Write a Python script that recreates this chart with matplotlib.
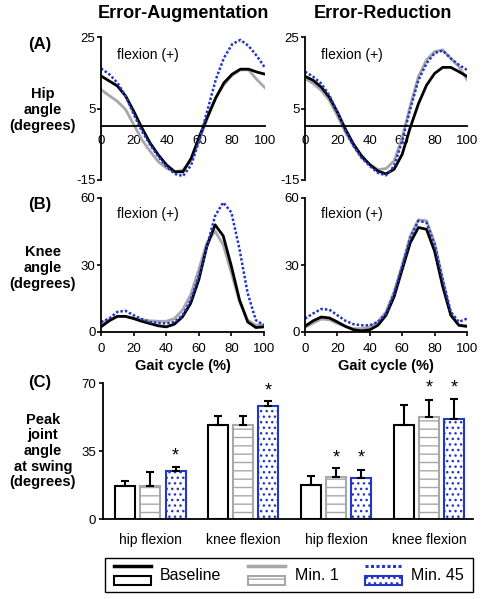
import numpy as np
import matplotlib
matplotlib.use('Agg')
import matplotlib.pyplot as plt
from matplotlib.lines import Line2D
from matplotlib.patches import Rectangle
from matplotlib.legend_handler import HandlerBase

plt.rcParams['font.family'] = ['Liberation Sans', 'DejaVu Sans']
plt.rcParams['hatch.linewidth'] = 1.0
plt.rcParams['axes.unicode_minus'] = False

# gait cycle samples (%)
pct = np.arange(0, 101, 5)

# hip angle, error-augmentation
hip_ea_base = [14.1, 12.7, 11.3, 8.5, 4.2, -0.5, -4.7, -8.0, -10.8, -12.7, -12.7, -8.9, -2.8, 2.8, 8.0, 12.2, 14.6, 16.0, 16.0, 15.2, 14.6]
hip_ea_min1 = [10.3, 8.6, 7.0, 4.7, 0.5, -3.8, -7.0, -9.9, -11.7, -12.7, -12.2, -9.4, -3.8, 2.3, 8.0, 11.7, 14.3, 15.8, 15.8, 13.1, 10.8]
hip_ea_min45 = [16.2, 14.6, 12.2, 8.5, 3.3, -1.4, -5.2, -8.5, -11.3, -13.3, -13.9, -10.8, -3.8, 4.7, 13.1, 19.2, 23.0, 24.2, 22.5, 19.7, 16.4]
# hip angle, error-reduction
hip_er_base = [14.0, 12.9, 11.0, 8.2, 4.0, -0.8, -5.0, -8.3, -10.7, -12.5, -13.3, -12.0, -7.8, -0.3, 6.3, 11.5, 14.8, 16.5, 16.5, 15.3, 14.0]
hip_er_min1 = [13.4, 12.0, 10.1, 7.3, 3.0, -1.7, -5.5, -8.8, -10.7, -12.1, -11.8, -9.7, -3.1, 5.8, 13.9, 18.6, 20.9, 21.4, 19.0, 16.7, 13.1]
hip_er_min45 = [15.3, 13.9, 12.0, 8.7, 4.0, -1.2, -5.5, -8.8, -11.1, -13.0, -13.7, -11.1, -4.1, 4.9, 12.9, 17.6, 20.5, 21.2, 19.0, 17.2, 15.8]
# knee angle, error-augmentation
knee_ea_base = [2.3, 5.0, 7.0, 7.0, 6.0, 4.8, 3.8, 2.8, 2.3, 3.5, 6.8, 12.8, 23.4, 38.5, 48.0, 43.0, 29.4, 14.3, 4.5, 2.0, 2.3]
knee_ea_min1 = [3.8, 5.5, 7.0, 7.0, 6.3, 5.5, 5.0, 4.8, 4.8, 6.0, 9.8, 16.6, 28.0, 40.0, 45.2, 39.0, 26.4, 13.6, 5.3, 3.0, 3.3]
knee_ea_min45 = [4.5, 6.0, 9.0, 9.5, 7.5, 5.8, 4.5, 4.0, 3.8, 4.5, 7.5, 14.3, 25.0, 38.5, 52.0, 58.0, 53.5, 37.0, 17.3, 5.3, 3.0]
# knee angle, error-reduction
knee_er_base = [2.6, 5.0, 6.7, 6.3, 4.5, 2.5, 1.0, 0.5, 1.0, 3.0, 7.5, 15.8, 28.0, 40.0, 46.8, 46.0, 36.2, 20.4, 7.5, 3.0, 2.6]
knee_er_min1 = [2.0, 4.0, 5.8, 5.5, 3.8, 2.5, 1.5, 1.5, 2.3, 4.5, 9.0, 18.0, 30.0, 43.0, 50.2, 49.8, 40.0, 23.4, 8.3, 3.0, 2.3]
knee_er_min45 = [6.0, 8.3, 10.3, 10.0, 7.5, 5.0, 3.5, 3.0, 3.0, 4.5, 8.3, 17.3, 29.4, 42.2, 49.8, 49.0, 39.2, 23.4, 9.0, 4.5, 6.0]

# peak joint angle at swing (EA hip, EA knee, ER hip, ER knee)
categories = ['hip flexion', 'knee flexion', 'hip flexion', 'knee flexion']
peak_base = [16.8, 48.5, 17.3, 48.2]
peak_min1 = [16.8, 48.5, 21.6, 52.5]
peak_min45 = [24.5, 58.3, 21.1, 51.6]
err_base = [2.6, 4.7, 5.0, 10.3]
err_min1 = [7.5, 4.7, 4.6, 8.5]
err_min45 = [2.4, 2.4, 4.3, 10.3]
sig_min1 = [False, False, True, True]
sig_min45 = [True, True, True, True]

BLUE = '#2236c8'
GRAY = '#a8a8a8'
W, H = 485, 599

fig = plt.figure(figsize=(W / 100, H / 100), dpi=100)


def px_axes(x0, y0, x1, y1):
    return fig.add_axes([x0 / W, 1 - y1 / H, (x1 - x0) / W, (y1 - y0) / H])


def curves(ax, base, min1, min45):
    ax.plot(pct, min1, color=GRAY, lw=2.0)
    ax.plot(pct, base, color='black', lw=2.0)
    ax.plot(pct, min45, color=BLUE, lw=1.8, ls=(0, (1, 0.8)))
    ax.set_xlim(0, 100)
    ax.set_xticks([0, 20, 40, 60, 80, 100])
    for s in ['top', 'right']:
        ax.spines[s].set_visible(False)
    ax.spines['left'].set_linewidth(1.3)
    ax.spines['bottom'].set_linewidth(1.3)
    ax.tick_params(labelsize=9.5, width=1.2)


# (A) hip
for x0, x1, data in [(101, 265, (hip_ea_base, hip_ea_min1, hip_ea_min45)),
                     (305, 467, (hip_er_base, hip_er_min1, hip_er_min45))]:
    ax = px_axes(x0, 37, x1, 180)
    curves(ax, *data)
    ax.set_ylim(-15, 25)
    ax.set_yticks([-15, 5, 25])
    ax.spines['bottom'].set_position(('data', 0))
    ax.tick_params(axis='x', length=0, pad=6)
    ax.tick_params(axis='y', length=3, pad=1)
    ax.text(10, 20, 'flexion (+)', fontsize=10, va='center')

# (B) knee
for x0, x1, data in [(101, 264, (knee_ea_base, knee_ea_min1, knee_ea_min45)),
                     (305, 467, (knee_er_base, knee_er_min1, knee_er_min45))]:
    ax = px_axes(x0, 198, x1, 332)
    curves(ax, *data)
    ax.set_ylim(0, 60)
    ax.set_yticks([0, 30, 60])
    ax.tick_params(axis='x', length=3, pad=5)
    ax.tick_params(axis='y', length=3, pad=1)
    ax.text(10, 53, 'flexion (+)', fontsize=10, va='center')
    ax.set_xlabel('Gait cycle (%)', fontsize=10.5, fontweight='bold', labelpad=3)

# (C) peak angles
axc = px_axes(103, 383, 473, 519)
x = np.arange(len(categories))
bw = 0.215
off = 0.27
axc.bar(x - off, peak_base, bw, facecolor='white', edgecolor='black', lw=1.5)
axc.bar(x, peak_min1, bw, facecolor='white', edgecolor=GRAY, lw=1.5, hatch='--')
axc.bar(x + off, peak_min45, bw, facecolor='white', edgecolor=BLUE, lw=1.5, hatch='...')
for dx, vals, errs in [(-off, peak_base, err_base), (0, peak_min1, err_min1), (off, peak_min45, err_min45)]:
    axc.errorbar(x + dx, vals, yerr=[np.zeros(len(vals)), errs], fmt='none',
                 ecolor='black', elinewidth=1.5, capsize=3, capthick=1.5)
for i in range(len(categories)):
    top = max(peak_base[i] + err_base[i], peak_min1[i] + err_min1[i], peak_min45[i] + err_min45[i])
    if sig_min1[i]:
        axc.text(x[i], top + 1, '*', ha='center', va='bottom', fontsize=13)
    if sig_min45[i]:
        axc.text(x[i] + off, top + 1, '*', ha='center', va='bottom', fontsize=13)
axc.set_xlim(-0.51, 3.47)
axc.set_ylim(0, 70)
axc.set_yticks([0, 35, 70])
axc.set_xticks(x)
axc.set_xticklabels(categories)
axc.tick_params(axis='x', length=0, pad=10, labelsize=10)
axc.tick_params(axis='y', length=3, pad=2, labelsize=9.5, width=1.2)
for s in ['top', 'right']:
    axc.spines[s].set_visible(False)
axc.spines['left'].set_linewidth(1.3)
axc.spines['bottom'].set_linewidth(1.3)

# titles and row labels
fig.text(183 / W, 1 - 14 / H, 'Error-Augmentation', ha='center', va='center', fontsize=13, fontweight='bold')
fig.text(383 / W, 1 - 14 / H, 'Error-Reduction', ha='center', va='center', fontsize=13, fontweight='bold')
for txt, yy in [('(A)', 45), ('(B)', 205), ('(C)', 382)]:
    fig.text(40 / W, 1 - yy / H, txt, ha='center', va='center', fontsize=12, fontweight='bold')
for txt, yy in [('Hip\nangle\n(degrees)', 110), ('Knee\nangle\n(degrees)', 268),
                ('Peak\njoint\nangle\nat swing\n(degrees)', 451)]:
    fig.text(43 / W, 1 - yy / H, txt, ha='center', va='center', fontsize=10.5,
             fontweight='bold', linespacing=1.15)


# legend: line over box
class LineOverBox(HandlerBase):
    def create_artists(self, legend, orig_handle, xdescent, ydescent, width, height, fontsize, trans):
        line, box = orig_handle
        x0, y0 = -xdescent, -ydescent
        ln = Line2D([x0, x0 + width], [y0 + height, y0 + height])
        ln.update_from(line)
        ln.set_transform(trans)
        rc = Rectangle((x0, y0 - 0.1 * height), width, 0.55 * height)
        rc.update_from(box)
        rc.set_transform(trans)
        return [rc, ln]


handles = [
    (Line2D([], [], color='black', lw=2.5), Rectangle((0, 0), 1, 1, fc='white', ec='black', lw=1.5)),
    (Line2D([], [], color=GRAY, lw=2.5), Rectangle((0, 0), 1, 1, fc='white', ec=GRAY, lw=1.5, hatch='--')),
    (Line2D([], [], color=BLUE, lw=2.2, ls=(0, (1, 0.8))), Rectangle((0, 0), 1, 1, fc='white', ec=BLUE, lw=1.5, hatch='...')),
]
leg = fig.legend(handles, ['Baseline', 'Min. 1', 'Min. 45'], handler_map={tuple: LineOverBox()},
                 loc='center', bbox_to_anchor=(105 / W, 1 - 593 / H, 368 / W, 36 / H), mode='expand',
                 ncol=3, fontsize=11.5, handlelength=2.3, handleheight=1.3, handletextpad=0.6,
                 borderpad=0.55, borderaxespad=0, fancybox=False, edgecolor='black', framealpha=1)
leg.get_frame().set_linewidth(1.0)

fig.savefig('out.png', dpi=100)
